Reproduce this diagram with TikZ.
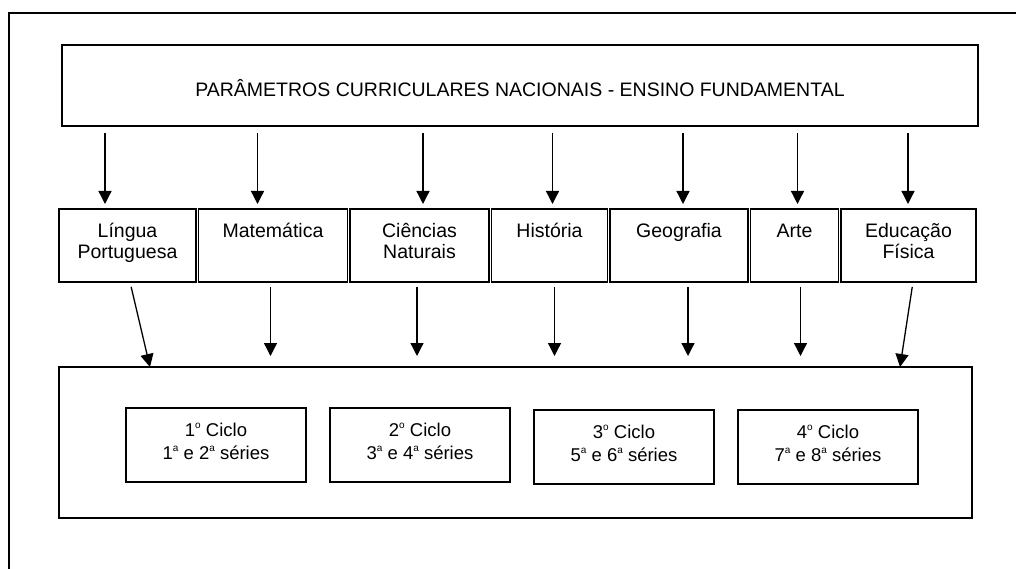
\documentclass[tikz,border=0pt]{standalone}
\usepackage{fontspec}
\setmainfont{Liberation Sans}
\usetikzlibrary{calc}
\usetikzlibrary{positioning}
\usetikzlibrary{arrows.meta}
\tikzstyle{frame} = [draw, line width=1.4pt]
\tikzstyle{titlebox} = [draw, rectangle, line width=1.4pt, inner sep=0pt, outer sep=0pt, minimum width=916pt, text height=52pt, text depth=29pt]
\tikzstyle{subjbox} = [draw, rectangle, line width=1.3pt, inner sep=0pt, outer sep=0pt, text height=28pt, text depth=45pt]
\tikzstyle{cyclebox} = [draw, rectangle, line width=1.3pt, inner sep=0pt, outer sep=0pt, minimum width=180pt, text height=28pt, text depth=46pt, font=\fontsize{18.5}{23}\selectfont]
\tikzstyle{arr} = [-{Triangle[width=13pt,length=13pt]}, line width=1.3pt]
\newcommand{\boxtext}[1]{\begin{tabular}[t]{@{}c@{}}#1\end{tabular}}
\newcommand{\ord}[1]{\raisebox{0.75ex}{\fontsize{10}{10}\selectfont #1}}

\begin{document}
\begin{tikzpicture}[x=1pt, y=-1pt, font=\fontsize{19.5}{21.5}\selectfont]
\useasboundingbox (0,0) rectangle (1016,569);
\draw[frame] (1016,13) -- (9,13) -- (9,569);
\node[titlebox] (pcn) at (520,85.5) {PARÂMETROS CURRICULARES NACIONAIS - ENSINO FUNDAMENTAL};
% disciplinas
\node[subjbox, minimum width=137pt] (lp) at (127.5,245.5) {\boxtext{Língua\\Portuguesa}};
\node[subjbox, minimum width=149pt, right=2.5pt of lp] (mat) {\boxtext{Matemática}};
\node[subjbox, minimum width=139pt, right=2.5pt of mat] (cn) {\boxtext{Ciências\\Naturais}};
\node[subjbox, minimum width=116pt, right=2.5pt of cn] (hist) {\boxtext{História}};
\node[subjbox, minimum width=138pt, right=2.5pt of hist] (geo) {\boxtext{Geografia}};
\node[subjbox, minimum width=88pt, right=2.5pt of geo] (arte) {\boxtext{Arte}};
\node[subjbox, minimum width=135pt, right=2.5pt of arte] (ef) {\boxtext{Educação\\Física}};
% ciclos
\node[draw, rectangle, line width=1.3pt, inner sep=0pt, outer sep=0pt, minimum width=913pt, minimum height=151pt] (bb) at (515.5,442.5) {};
\node[cyclebox] (c1) at (216,445) {\boxtext{1\ord{o} Ciclo\\1\ord{a} e 2\ord{a} séries}};
\node[cyclebox, right=24pt of c1] (c2) {\boxtext{2\ord{o} Ciclo\\3\ord{a} e 4\ord{a} séries}};
\node[cyclebox, right=24pt of c2, yshift=-2pt] (c3) {\boxtext{3\ord{o} Ciclo\\5\ord{a} e 6\ord{a} séries}};
\node[cyclebox, right=24pt of c3] (c4) {\boxtext{4\ord{o} Ciclo\\7\ord{a} e 8\ord{a} séries}};
% setas
\foreach \n/\dx in {lp/-22.5, mat/-15.5, cn/3.5, hist/3, geo/4, arte/3, ef/-0.5}{
  \coordinate (t\n) at ($(\n.north)+(\dx,0)$);
  \draw[arr, shorten <=7pt, shorten >=5pt] (pcn.south -| t\n) -- (t\n);
}
\foreach \n/\dx in {mat/-2.5, cn/-2.5, hist/5, geo/9, arte/6}{
  \coordinate (b\n) at ($(\n.south)+(\dx,0)$);
  \draw[arr, shorten <=5pt, shorten >=11pt] (b\n) -- (bb.north -| b\n);
}
\coordinate (blp) at ($(lp.south)+(2.5,0)$);
\coordinate (elp) at ($(lp.south)+(22.5,0)$);
\draw[arr, shorten <=5pt] (blp) -- (bb.north -| elp);
\coordinate (bef) at ($(ef.south)+(4.5,0)$);
\coordinate (eef) at ($(ef.south)+(-8.5,0)$);
\draw[arr, shorten <=5pt] (bef) -- (bb.north -| eef);
\end{tikzpicture}
\end{document}
